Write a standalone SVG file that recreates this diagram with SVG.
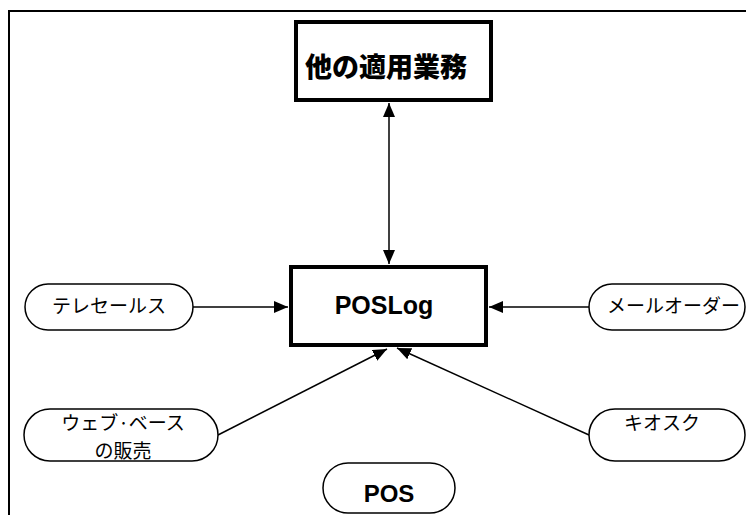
<svg xmlns="http://www.w3.org/2000/svg" width="746" height="515" viewBox="0 0 746 515">
<style>
.box{fill:#fff;stroke:#000;stroke-width:4}
.pill{fill:#fff;stroke:#000;stroke-width:1.5}
.conn{stroke:#000;stroke-width:1.5;fill:none}
.jp{font-family:"Noto Sans CJK JP","Liberation Sans",sans-serif;font-size:19px;fill:#000}
.big{font-family:"Liberation Sans","Noto Sans CJK JP",sans-serif;font-weight:bold;fill:#000}
</style>
<defs>
<marker id="ah" markerUnits="userSpaceOnUse" markerWidth="15" markerHeight="13" refX="14" refY="6" orient="auto-start-reverse">
<path d="M0,0 L14,6 L0,12 z" fill="#000"/>
</marker>
</defs>
<rect width="746" height="515" fill="#fff"/>
<path d="M9,515 V11 H746" fill="none" stroke="#000" stroke-width="2"/>
<g id="connectors">
<line class="conn" x1="389" y1="103" x2="389" y2="264" marker-start="url(#ah)" marker-end="url(#ah)"/>
<line class="conn" x1="193" y1="307" x2="288" y2="307" marker-end="url(#ah)"/>
<line class="conn" x1="589" y1="307" x2="489" y2="307" marker-end="url(#ah)"/>
<line class="conn" x1="218" y1="435" x2="387" y2="349" marker-end="url(#ah)"/>
<line class="conn" x1="589" y1="435" x2="397" y2="348" marker-end="url(#ah)"/>
</g>
<g id="other-apps">
<rect class="box" x="296" y="22" width="195" height="78"/>
<text class="big" x="386" y="77" font-size="27" text-anchor="middle" style="font-family:'Noto Sans CJK JP',sans-serif;font-weight:900">他の適用業務</text>
</g>
<g id="poslog">
<rect class="box" x="291" y="267" width="195" height="78"/>
<text class="big" x="384" y="314" font-size="25" text-anchor="middle">POSLog</text>
</g>
<g id="telesales">
<rect class="pill" x="25" y="284" width="168" height="46" rx="23"/>
<text class="jp" x="109" y="313" text-anchor="middle">テレセールス</text>
</g>
<g id="mail-order">
<rect class="pill" x="589" y="284" width="156" height="46" rx="23"/>
<text class="jp" x="607" y="313">メールオーダー</text>
</g>
<g id="web-sales">
<rect class="pill" x="24" y="409" width="194" height="52" rx="26"/>
<text class="jp" x="123" y="430" text-anchor="middle">ウェブ·ベース</text>
<text class="jp" x="123" y="458" text-anchor="middle">の販売</text>
</g>
<g id="kiosk">
<rect class="pill" x="589" y="409" width="156" height="52" rx="26"/>
<text class="jp" x="662" y="430" text-anchor="middle">キオスク</text>
</g>
<g id="pos">
<rect class="pill" x="323" y="463" width="132" height="50" rx="25"/>
<text class="big" x="389" y="502" font-size="24" text-anchor="middle">POS</text>
</g>
</svg>
